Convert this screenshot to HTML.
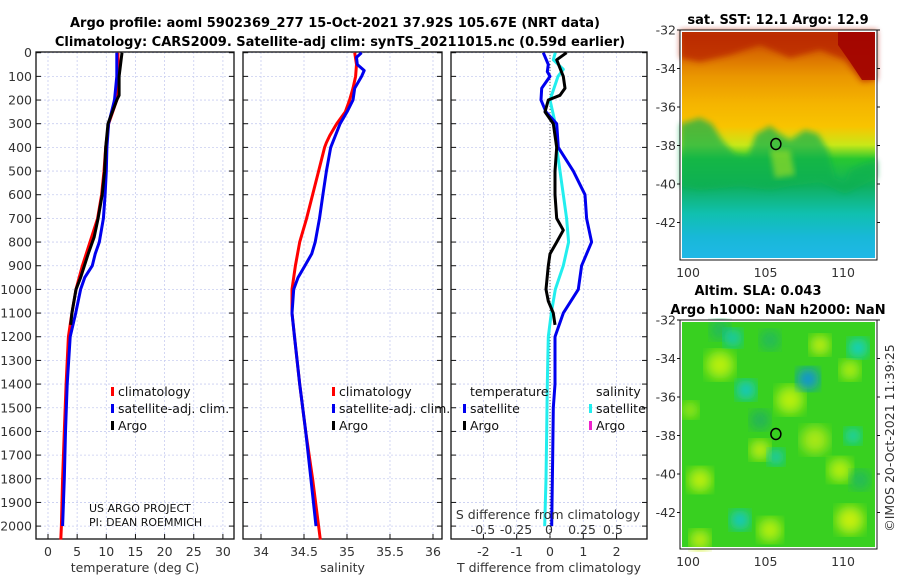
<!DOCTYPE html>
<html><head><meta charset="utf-8">
<style>
html,body{margin:0;padding:0;background:#fff;}
svg{display:block;font-family:"DejaVu Sans","Liberation Sans",sans-serif;}
.tk{font-size:12.5px;fill:#333;}
.ttl{font-size:13px;font-weight:bold;fill:#000;}
.lg{font-size:12.5px;fill:#111;}
</style></head>
<body>
<svg id="fig" width="900" height="580" viewBox="0 0 900 580">
<text class="ttl" x="335" y="27" text-anchor="middle">Argo profile: aoml 5902369_277 15-Oct-2021 37.92S 105.67E (NRT data)</text>
<text class="ttl" x="340" y="46" text-anchor="middle">Climatology: CARS2009. Satellite-adj clim: synTS_20211015.nc (0.59d earlier)</text>
<g id="panels"></g>
<g id="maps"></g>
</svg>
<script>
// ---- data ----
const tDepth = [0,100,200,300,400,500,600,700,800,900,1000,1100,1200,1400,1600,1800,2000,2057];
const tClim  = [12.0,12.0,11.8,10.4,9.9,9.6,9.2,8.5,7.2,5.9,4.8,4.1,3.5,3.1,2.8,2.5,2.3,2.2];
const tSatDepth = [0,100,200,300,400,500,600,700,800,850,900,950,1000,1100,1200,1400,1600,1800,2000];
const tSat   = [11.8,11.8,11.4,10.4,10.1,10.0,9.8,9.5,8.8,8.1,7.6,6.3,5.6,4.75,3.8,3.3,3.0,2.8,2.5];
const argoDepth = [0,100,180,200,300,400,500,600,700,780,850,950,1000,1100,1150];
const tArgo  = [12.7,12.2,12.2,11.8,10.3,9.9,9.7,9.3,8.6,7.9,6.9,5.6,4.8,4.1,3.9];
const sDepth = [0,50,100,150,200,250,300,350,380,400,500,600,700,800,900,1000,1100,1200,1400,1600,1800,2000,2057];
const sClim  = [35.09,35.11,35.10,35.07,35.03,34.98,34.88,34.80,34.76,34.74,34.67,34.60,34.53,34.45,34.40,34.36,34.36,34.39,34.45,34.52,34.60,34.67,34.69];
const sSatDepth = [0,20,50,75,100,150,200,250,300,400,500,600,700,800,850,900,950,1000,1100,1200,1400,1600,1800,2000];
const sSat   = [35.17,35.11,35.12,35.20,35.17,35.09,35.07,35.0,34.92,34.81,34.76,34.72,34.68,34.63,34.59,34.51,34.43,34.38,34.36,34.39,34.45,34.52,34.58,34.64];
const dTDepth = [0,50,80,100,150,200,250,300,400,500,600,700,800,900,1000,1100,1200,1400,1500,1700,2000];
const dTSat  = [-0.2,-0.05,-0.08,0,-0.25,-0.27,-0.12,0.2,0.25,0.7,1.05,1.1,1.25,0.95,0.85,0.4,0.15,0.15,0.1,0.08,0.05];
const dTArgoDepth = [0,30,100,150,180,200,250,300,400,500,600,700,750,800,850,900,1000,1050,1100,1150];
const dTArgo = [0.5,0.2,0.4,0.45,0.3,-0.05,-0.15,0.1,0.2,0.15,0.15,0.2,0.4,0.2,0,-0.05,-0.12,-0.05,0.1,0.15];
const dSDepth = [0,30,70,100,200,300,400,500,600,700,800,900,1000,1100,1200,1400,1600,1800,2000];
const dSSat  = [0.04,0.025,0.1,0.06,0,0.04,0.05,0.075,0.1,0.125,0.14,0.1,0.04,0.01,-0.013,-0.02,-0.025,-0.03,-0.04];
const depthTicks = [0,100,200,300,400,500,600,700,800,900,1000,1100,1200,1300,1400,1500,1600,1700,1800,1900,2000];
const tTicks = [0,5,10,15,20,25,30];
const sTicks = [34,34.5,35,35.5,36];
const dTTicks = [-2,-1,0,1,2];
const dSTicks = [-0.5,-0.25,0,0.25,0.5];
const dSTickLabels = ["-0.5","-0.25","0","0.25","0.5"];

// ---- scales ----
const TOP=52, BOT=539;
const yD = d => 52.7 + d*0.2367;
const xT = t => 48 + t*5.83;
const xS = s => 261 + (s-34)*86;
const xDT = v => 550 + v*33.3;
const xDS = v => 550 + v*133;
const NS='http://www.w3.org/2000/svg';
const g = document.getElementById('panels');
function mk(tag, attrs, parent){ const e=document.createElementNS(NS,tag); for(const k in attrs) e.setAttribute(k,attrs[k]); (parent||g).appendChild(e); return e; }

function panel(x0,x1,name,xticks,xf,labels,xtitle,showDepth){
  const pg = mk('g',{});
  
  
  xticks.forEach(v=>{ const x=xf(v); mk('line',{x1:x,x2:x,y1:TOP,y2:BOT,stroke:'#c8cdf0','stroke-width':0.8,'stroke-dasharray':'2,2'},pg); });
  depthTicks.forEach(d=>{ const y=yD(d); mk('line',{x1:x0,x2:x1,y1:y,y2:y,stroke:'#c8cdf0','stroke-width':0.8,'stroke-dasharray':'2,2'},pg);
    mk('line',{x1:x0,x2:x0+5,y1:y,y2:y,stroke:'#111'},pg); mk('line',{x1:x1-5,x2:x1,y1:y,y2:y,stroke:'#111'},pg);
    if(showDepth){ const t=mk('text',{x:x0-4,y:y+4.5,'text-anchor':'end',class:'tk'},pg); t.textContent=d;
      
       }
  });
  if(labels){ xticks.forEach((v,i)=>{ const x=xf(v); mk('line',{x1:x,x2:x,y1:BOT,y2:BOT-5,stroke:'#111'},pg);
    const t=mk('text',{x:x,y:556,'text-anchor':'middle',class:'tk'},pg); t.textContent=labels[i];
    
     }); }
  mk('rect',{x:x0,y:TOP,width:x1-x0,height:BOT-TOP,fill:'none',stroke:'#111','stroke-width':1.3},pg);
  const tt=mk('text',{x:(x0+x1)/2,y:572,'text-anchor':'middle',class:'tk'},pg); tt.textContent=xtitle;
  
  
  return pg;
}
function line(depths, vals, xf, color, name, parent, w){
  const pts = depths.map((d,i)=>xf(vals[i]).toFixed(1)+','+yD(d).toFixed(1)).join(' ');
  const p = mk('polyline',{points:pts,fill:'none',stroke:color,'stroke-width':w||3,'stroke-linejoin':'round'},parent);
  
  
}
function legend(x,y,items,parent){
  items.forEach((it,i)=>{ const yy=y+i*17;
    if(it[1]) { const r=mk('rect',{x:x,y:yy-9,width:3,height:9,fill:it[1]},parent);
      
       }
    const t=mk('text',{x:x+7,y:yy,class:'lg'},parent); t.textContent=it[0];
    
    
  });
}

// Panel 1 temperature
const p1 = panel(36,234,'temperature-panel',tTicks,xT,tTicks.map(String),'temperature (deg C)',true);
line(tDepth,tClim,xT,'#f00','temp-climatology-line',p1);
line(tSatDepth,tSat,xT,'#0000ee','temp-satellite-line',p1);
line(argoDepth,tArgo,xT,'#000','temp-argo-line',p1);
legend(111,396,[['climatology','#f00'],['satellite-adj. clim.','#0000ee'],['Argo','#000']],p1);
const c1=mk('text',{x:89,y:512,style:'font-size:11px',fill:'#111'},p1); c1.textContent='US ARGO PROJECT';


const c2=mk('text',{x:89,y:526,style:'font-size:11px',fill:'#111'},p1); c2.textContent='PI: DEAN ROEMMICH';



// Panel 2 salinity
const p2 = panel(243,442,'salinity-panel',sTicks,xS,sTicks.map(String),'salinity',false);
line(sDepth,sClim,xS,'#f00','sal-climatology-line',p2);
line(sSatDepth,sSat,xS,'#0000ee','sal-satellite-line',p2);
legend(332,396,[['climatology','#f00'],['satellite-adj. clim.','#0000ee'],['Argo','#000']],p2);

// Panel 3 differences
const p3 = panel(451,647,'difference-panel',dTTicks,xDT,dTTicks.map(String),'T difference from climatology',false);
mk('line',{x1:550,x2:550,y1:TOP,y2:BOT,stroke:'#555','stroke-width':1,'stroke-dasharray':'1,2'},p3);
line(dSDepth,dSSat,xDS,'#22eeee','sal-diff-satellite-line',p3);
line(dTDepth,dTSat,xDT,'#0000ee','temp-diff-satellite-line',p3);
line(dTArgoDepth,dTArgo,xDT,'#000','temp-diff-argo-line',p3);
legend(463,396,[['temperature',null],['satellite','#0000ee'],['Argo','#000']],p3);
legend(589,396,[['salinity',null],['satellite','#22eeee'],['Argo','#ee22cc']],p3);
const sdt=mk('text',{x:548,y:519,'text-anchor':'middle',class:'tk'},p3); sdt.textContent='S difference from climatology';


const sTickX=[483,516,549,582,613];
dSTicks.forEach((v,i)=>{ const t=mk('text',{x:sTickX[i],y:534,'text-anchor':'middle',class:'tk'},p3); t.textContent=dSTickLabels[i];
  
   });

// ---- maps ----
const mg=document.getElementById('maps');
function mapAxes(x0,y0,w,h,name,parent){
  const latY = lat => y0 + (-32-lat)*19.25;
  const lonX = lon => 688 + (lon-100)*15.5;
  [-32,-34,-36,-38,-40,-42].forEach(l=>{ const y=latY(l);
    mk('line',{x1:x0,x2:x0-3,y1:y,y2:y,stroke:'#111'},parent); mk('line',{x1:x0+w,x2:x0+w+3,y1:y,y2:y,stroke:'#111'},parent);
    const t=mk('text',{x:x0-4,y:y+4.5,'text-anchor':'end',class:'tk'},parent); t.textContent=l;
    
     });
  [100,105,110].forEach(l=>{ const x=lonX(l);
    const t=mk('text',{x:x,y:y0+h+17,'text-anchor':'middle',class:'tk'},parent); t.textContent=l;
    
     });
  mk('rect',{x:x0+1,y:y0+1,width:w-2,height:h-2,fill:'none',stroke:'#fff','stroke-width':2},parent);
  mk('rect',{x:x0,y:y0,width:w,height:h,fill:'none',stroke:'#111','stroke-width':1},parent);
  const c=mk('ellipse',{cx:lonX(105.67),cy:latY(-37.92),rx:5,ry:5.5,fill:'none',stroke:'#000','stroke-width':1.5},parent);
  
  
}
// SST map
const m1=mk('g',{},mg);


const defs=mk('defs',{},mg);
defs.innerHTML='<linearGradient id="sstg" x1="0" y1="0" x2="0" y2="1"><stop offset="0" stop-color="#c03a00"/><stop offset="0.1" stop-color="#d86a00"/><stop offset="0.2" stop-color="#ea9600"/><stop offset="0.32" stop-color="#f5b400"/><stop offset="0.42" stop-color="#f8c400"/><stop offset="0.5" stop-color="#c8e818"/><stop offset="0.56" stop-color="#28c830"/><stop offset="0.68" stop-color="#10b060"/><stop offset="0.8" stop-color="#10c0b0"/><stop offset="0.9" stop-color="#18b8d8"/><stop offset="1" stop-color="#20b8e8"/></linearGradient>'+
'<filter id="bl"><feGaussianBlur stdDeviation="6"/></filter><filter id="bl2"><feGaussianBlur stdDeviation="3"/></filter>';
mk('rect',{x:680,y:30,width:197,height:230,fill:'url(#sstg)'},m1);
mk('path',{d:'M680 30 L877 30 L877 80 L862 82 L845 60 L820 50 L790 58 L760 45 L730 55 L700 62 L680 58 Z',fill:'#b82000',opacity:0.75,filter:'url(#bl2)'},m1);
mk('path',{d:'M838 30 L877 30 L877 80 L862 80 L850 62 L838 45 Z',fill:'#a00000',opacity:0.85},m1);
mk('path',{d:'M680 151 L680 124 L700 118 L712 124 L722 140 L735 154 L748 156 L756 134 L770 126 L780 134 L790 140 L805 130 L818 134 L828 150 L835 178 L845 182 L850 170 L862 164 L877 160 L877 178 L845 194 L820 182 L790 186 L770 190 L740 186 L700 190 L680 186 Z',fill:'#10b050',opacity:0.7,filter:'url(#bl2)'},m1);
mk('path',{d:'M770 150 L790 150 L795 175 L775 178 Z',fill:'#a8e020',opacity:0.6,filter:'url(#bl2)'},m1);
mapAxes(680,30,197,230,'sst',m1);
const mt1=mk('text',{x:778,y:24,'text-anchor':'middle',class:'ttl'},m1); mt1.textContent='sat. SST: 12.1 Argo: 12.9';



// SLA map
const m2=mk('g',{},mg);


mk('rect',{x:680,y:320,width:197,height:229,fill:'#38d020'},m2);
const blobs=[[720,365,'#b8f010',14],[760,450,'#c8f010',10],[700,480,'#c0f010',12],[790,400,'#b8f010',14],[815,440,'#a8e818',14],[850,520,'#c8f010',14],[700,540,'#c8f010',10],[770,530,'#b8f010',12],[820,345,'#c8f010',10],[850,370,'#b8f010',10],[840,470,'#b8f010',12],[690,410,'#b0ec10',8],
 [720,330,'#20b860',10],[770,340,'#20b860',10],[760,420,'#20b060',10],[860,480,'#20b860',10],
 [733,338,'#10c8c0',9],[746,390,'#10c8d0',10],[808,379,'#1090e0',11],[858,348,'#10d0d0',10],[853,436,'#10d0d0',8],[776,457,'#10c8d0',8],[740,520,'#10c8d0',10]];
blobs.forEach(b=>mk('circle',{cx:b[0],cy:b[1],r:b[3],fill:b[2],filter:'url(#bl)'},m2));
mapAxes(680,320,197,229,'sla',m2);
const mt2=mk('text',{x:758,y:295,'text-anchor':'middle',class:'ttl'},m2); mt2.textContent='Altim. SLA: 0.043';


const mt3=mk('text',{x:778,y:314,'text-anchor':'middle',class:'ttl'},m2); mt3.textContent='Argo h1000: NaN h2000: NaN';


const cr=mk('text',{x:0,y:0,'text-anchor':'middle',class:'tk',transform:'translate(894,438) rotate(-90)'},m2); cr.textContent='©IMOS 20-Oct-2021 11:39:25';


</script>
</body></html>
